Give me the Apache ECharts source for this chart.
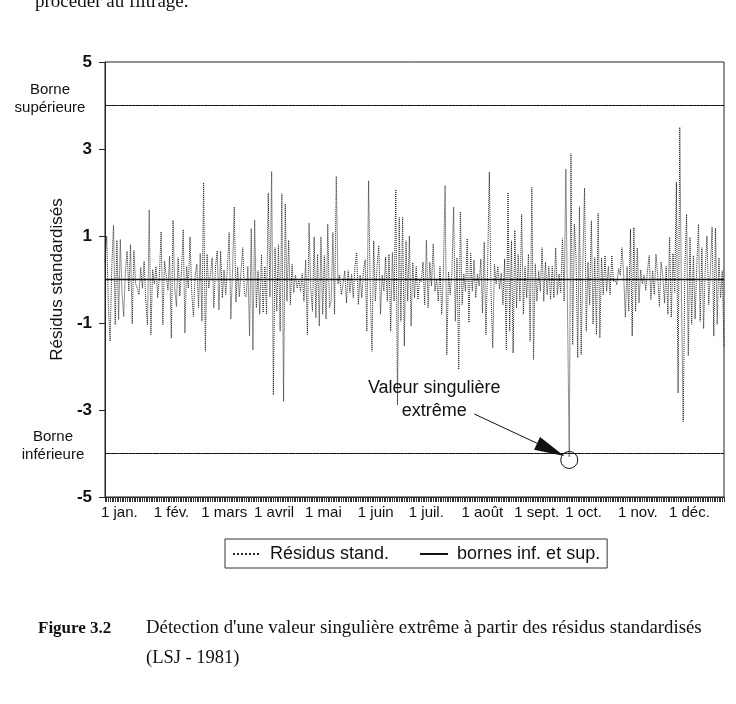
<!DOCTYPE html>
<html><head><meta charset="utf-8">
<script src="https://cdn.jsdelivr.net/npm/echarts@6/dist/echarts.min.js"></script>
<style>html,body{margin:0;padding:0;background:#fff}#c{width:736px;height:704px}</style>
</head><body><div id="c"></div>
<script>
// ---- data ----
const monthLabels = ['1 jan.', '1 fév.', '1 mars', '1 avril', '1 mai', '1 juin', '1 juil.', '1 août', '1 sept.', '1 oct.', '1 nov.', '1 déc.'];
const monthStartDays = [0, 31, 59, 90, 120, 151, 181, 212, 243, 273, 304, 334];
const residuals = [
  0.4, 1.0, -0.6, -1.42, 0.3, 1.25, -1.04, 0.9, -0.92, 0.92,
  -0.3, -0.85, 0.2, 0.65, -0.27, 0.8, -1.02, 0.67, -0.1, -0.2,
  -0.35, 0.28, -0.2, 0.42, -0.5, -1.04, 1.6, -1.27, 0.23, -0.1,
  0.3, -0.42, 0.1, 1.1, -1.04, 0.42, 0.1, -0.25, 0.54, -1.35,
  1.36, -0.2, -0.62, 0.5, -0.38, 0.2, 1.15, -1.23, 0.3, -0.2,
  0.98, -0.3, -0.85, 0.1, 0.35, -0.65, 0.6, -0.96, 2.23, -1.65,
  0.58, -0.2, 0.1, 0.5, -0.65, 0.3, 0.66, -0.7, 0.65, -0.42,
  0.22, -0.35, 0.3, 1.08, -0.91, 0.2, 1.67, -0.52, 0.28, -0.4,
  0.2, 0.73, -0.35, -0.4, 0.3, -1.3, 1.17, -1.62, 1.37, -0.65,
  0.2, -0.8, 0.57, -0.76, 0.3, -0.8, 1.99, -0.4, 2.48, -2.65,
  0.73, -0.73, 0.8, -1.19, 1.97, -2.8, 1.74, -0.5, 0.9, -0.58,
  0.35, -0.3, 0.1, -0.2, 0.0, -0.27, 0.14, -0.5, 0.45, -1.27,
  1.3, -0.2, -0.73, 0.98, -0.88, 0.58, -1.07, 0.98, -0.8, 0.55,
  -0.91, 1.27, -0.65, -0.5, 1.08, -0.8, 2.37, -0.1, 0.1, -0.35,
  -0.1, 0.2, -0.54, 0.2, -0.3, 0.12, -0.42, 0.3, 0.62, -0.58,
  0.1, -0.42, 0.2, 0.45, -1.19, 2.27, -0.3, -1.65, 0.89, -0.5,
  0.3, 0.78, -0.8, 0.1, -0.27, 0.52, -0.5, 0.58, -1.19, 0.62,
  -0.5, 2.07, -2.88, 1.43, -0.96, 1.43, -1.53, 0.89, -0.5, 1.0,
  -1.07, 0.39, -0.42, 0.3, -0.46, 0.0, -0.05, 0.4, -0.58, 0.9,
  -0.65, 0.4, -0.15, 0.82, -0.27, 0.0, -0.5, 0.3, -0.8, 0.2,
  2.16, -1.73, 0.18, -0.35, 0.18, 1.66, -0.96, 0.5, -2.07, 1.56,
  -0.58, 0.13, -0.27, 0.94, -0.99, 0.62, -0.27, 0.45, -0.42, 0.13,
  -0.15, 0.47, -0.77, 0.86, -1.27, 0.3, 2.47, -0.3, -1.57, 0.35,
  -0.1, 0.3, -0.22, 0.15, -0.58, 0.47, -1.61, 2.0, -1.19, 0.89,
  -1.69, 1.13, -0.65, 0.58, -0.5, 1.5, -0.8, 0.3, -0.42, 0.58,
  -1.42, 2.12, -1.84, 0.36, -0.5, 0.2, -0.27, 0.73, -0.5, 0.4,
  -0.35, 0.3, -0.46, 0.3, -0.42, 0.73, -0.35, 0.13, -0.3, 0.94,
  -0.5, 2.54, -0.77, -4.08, 2.89, -1.5, 1.27, 0.5, -1.8, 1.67,
  -1.73, 0.4, 2.1, -1.19, 0.4, -0.58, 1.35, -1.03, 0.5, -1.27,
  1.52, -1.34, 0.5, -0.35, 0.55, -0.27, 0.3, -0.35, 0.55, -0.05,
  0.0, -0.12, 0.25, 0.1, 0.73, 0.1, -0.87, 0.3, -0.73, 1.16,
  -1.3, 1.2, -0.73, 0.73, -0.54, 0.22, -0.1, 0.1, -0.25, 0.2,
  0.55, -0.46, 0.2, -0.35, 0.58, 0.1, -0.62, 0.4, 0.1, -0.54,
  0.3, -0.8, 0.97, -0.87, 0.6, -0.3, 2.24, -2.61, 3.5, -0.5,
  -3.27, 0.3, 1.5, -1.75, 0.97, -1.03, 0.55, -0.91, 0.3, 1.27,
  -0.96, 0.73, -1.13, 0.3, 1.0, -0.58, 0.2, 1.2, -1.3, 1.18,
  -1.03, 0.5, -0.42, 0.2, -1.55
];
const upperBound = 4;
const lowerBound = -4;
const outlierDay = 273;
const yMin = -5, yMax = 5, yStep = 2;

// ---- chart ----
const FONT = '"Liberation Sans", Arial, sans-serif';
const SERIF = '"Liberation Serif", "Times New Roman", serif';
const days = residuals.map((_, i) => String(i));
const chart = echarts.init(document.getElementById('c'), null, { renderer: 'canvas' });

chart.setOption({
  animation: false,
  backgroundColor: '#fff',
  grid: { left: 105, right: 12, top: 62, bottom: 207, show: true, borderColor: '#222', borderWidth: 1, backgroundColor: 'transparent' },
  legend: {
    left: 225, top: 539,
    data: ['Résidus stand.', 'bornes inf. et sup.'],
    itemWidth: 28, itemHeight: 12, itemGap: 30,
    padding: [6, 7, 5, 7],
    borderColor: '#333', borderWidth: 1,
    itemStyle: { opacity: 0 },
    textStyle: { fontFamily: FONT, fontSize: 18, color: '#111', padding: [0, 0, 0, 4] }
  },
  xAxis: {
    type: 'category', data: days, boundaryGap: false,
    axisLine: { show: true, onZero: false, lineStyle: { color: '#222', width: 1 } },
    axisTick: { show: true, interval: 0, length: 5, lineStyle: { color: '#333', width: 1 } },
    axisLabel: {
      interval: (idx) => monthStartDays.includes(idx),
      formatter: (v, idx) => monthLabels[monthStartDays.indexOf(idx)],
      align: 'left', padding: [0, 0, 0, -4], margin: 8,
      fontFamily: FONT, fontSize: 15, color: '#111'
    },
    splitLine: { show: false }
  },
  yAxis: {
    type: 'value', min: yMin, max: yMax, interval: yStep,
    name: 'Résidus standardisés', nameLocation: 'middle', nameGap: 33,
    nameTextStyle: { fontFamily: FONT, fontSize: 17, color: '#111' },
    axisLine: { show: true, lineStyle: { color: '#222', width: 1 } },
    axisTick: { show: true, length: 6, lineStyle: { color: '#222' } },
    axisLabel: { fontFamily: FONT, fontSize: 17, fontWeight: 'bold', color: '#111', margin: 13 },
    splitLine: { show: false }
  },
  series: [
    {
      name: 'Résidus stand.', type: 'line', data: residuals, symbol: 'none', z: 2,
      lineStyle: { type: 'dotted', width: 1, color: '#262626' },
      itemStyle: { color: '#262626' },
      markLine: {
        silent: true, symbol: 'none', label: { show: false },
        lineStyle: { type: 'solid', color: '#111', width: 1.3 },
        data: [{ yAxis: 0 }]
      },
      markPoint: {
        symbol: 'circle', symbolSize: 17, symbolOffset: [0, 3], silent: true,
        itemStyle: { color: 'rgba(255,255,255,0)', borderColor: '#111', borderWidth: 1 },
        label: { show: false },
        data: [{ coord: [outlierDay, residuals[outlierDay]] }]
      }
    },
    {
      name: 'bornes inf. et sup.', type: 'line', data: days.map(() => upperBound), symbol: 'none', z: 3,
      lineStyle: { type: 'solid', width: 1, color: '#111' }, itemStyle: { color: '#111' }
    },
    {
      name: 'bornes inf. et sup.', type: 'line', data: days.map(() => lowerBound), symbol: 'none', z: 3,
      lineStyle: { type: 'solid', width: 1, color: '#111' }, itemStyle: { color: '#111' }
    }
  ]
});

// annotations positioned through the chart's own coordinate system
const p = chart.convertToPixel({ seriesIndex: 0 }, [outlierDay, residuals[outlierDay]]);
const yUp = chart.convertToPixel({ yAxisIndex: 0 }, upperBound);
const yLo = chart.convertToPixel({ yAxisIndex: 0 }, lowerBound);
const T = [p[0] - 5, p[1] - 1];
const u = [0.906, 0.423], n = [-0.423, 0.906];
const B = [T[0] - 30 * u[0], T[1] - 30 * u[1]];
const S = [p[0] - 95, p[1] - 43];

chart.setOption({
  graphic: [
    { type: 'text', left: 35, top: -7, style: { text: 'procéder au filtrage.', font: '19px ' + SERIF, fill: '#111' } },
    { type: 'text', x: 50, y: yUp - 7, style: { text: 'Borne\nsupérieure', font: '15px ' + FONT, fill: '#111', align: 'center', verticalAlign: 'middle', lineHeight: 18 } },
    { type: 'text', x: 53, y: yLo - 8, style: { text: 'Borne\ninférieure', font: '15px ' + FONT, fill: '#111', align: 'center', verticalAlign: 'middle', lineHeight: 18 } },
    { type: 'text', x: p[0] - 135, y: p[1] - 57, z: 10, style: { text: 'Valeur singulière\nextrême', font: '18px ' + FONT, fill: '#111', align: 'center', verticalAlign: 'middle', lineHeight: 23 } },
    { type: 'line', z: 10, shape: { x1: S[0], y1: S[1], x2: B[0], y2: B[1] }, style: { stroke: '#111', lineWidth: 1 } },
    { type: 'polygon', z: 10, shape: { points: [T, [B[0] + 7 * n[0], B[1] + 7 * n[1]], [B[0] - 7 * n[0], B[1] - 7 * n[1]]] }, style: { fill: '#111' } },
    { type: 'text', left: 38, top: 620, style: { text: 'Figure 3.2', font: 'bold 17px ' + SERIF, fill: '#111' } },
    { type: 'text', left: 146, top: 619, style: { text: "Détection d'une valeur singulière extrême à partir des résidus standardisés", font: '18.8px ' + SERIF, fill: '#111' } },
    { type: 'text', left: 146, top: 649, style: { text: '(LSJ - 1981)', font: '18.5px ' + SERIF, fill: '#111' } }
  ]
});
</script>
</body></html>
